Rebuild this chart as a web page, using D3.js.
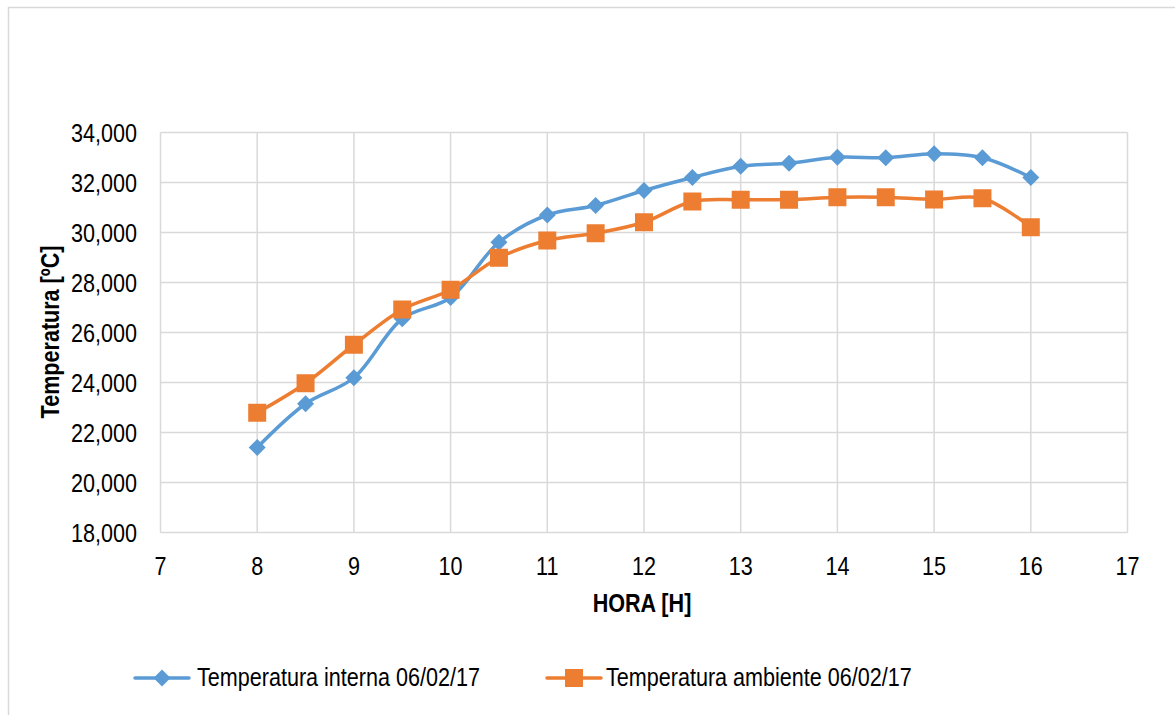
<!DOCTYPE html>
<html>
<head>
<meta charset="utf-8">
<script src="https://cdn.jsdelivr.net/npm/d3@7"></script>
<style>
  body { margin: 0; background: #fff; }
  text { font-family: "Liberation Sans Narrow", "Arial Narrow", "Liberation Sans", sans-serif; fill: #000; }
</style>
</head>
<body>
<svg id="chart" width="1175" height="715"></svg>
<script>
const horas = [8, 8.5, 9, 9.5, 10, 10.5, 11, 11.5, 12, 12.5, 13, 13.5, 14, 14.5, 15, 15.5, 16];
const interna = [21400, 23150, 24190, 26550, 27400, 29610, 30700, 31080, 31680, 32200, 32650, 32770, 33010, 32990, 33150, 32990, 32200];
const ambiente = [22790, 23970, 25510, 26920, 27710, 28990, 29680, 29970, 30410, 31240, 31310, 31310, 31410, 31410, 31320, 31370, 30210];
const xTicks = [7, 8, 9, 10, 11, 12, 13, 14, 15, 16, 17];
const yTicks = [18000, 20000, 22000, 24000, 26000, 28000, 30000, 32000, 34000];

const series = [
    { name: "Temperatura interna 06/02/17", values: interna, color: "#5B9BD5", marker: "diamond" },
    { name: "Temperatura ambiente 06/02/17", values: ambiente, color: "#ED7D31", marker: "square" }
];

const svgSpace = d3.select("#chart");
const narrow = 0.83; // la fuente del original es condensada

// borde del area del grafico
svgSpace.append("path")
    .attr("d", "M8.5,715 V7.5 H1175")
    .attr("fill", "none")
    .attr("stroke", "#d9d9d9")
    .attr("stroke-width", 1.5);

const x = d3.scaleLinear().domain([7, 17]).range([160.5, 1127.5]);
const y = d3.scaleLinear().domain([18000, 34000]).range([532.5, 132.5]);

// rejilla
svgSpace.append("g")
    .selectAll("line")
    .data(xTicks)
    .enter()
    .append("line")
    .attr("x1", (d) => x(d))
    .attr("x2", (d) => x(d))
    .attr("y1", y(34000))
    .attr("y2", y(18000))
    .attr("stroke", "#d9d9d9")
    .attr("stroke-width", 1.5);

svgSpace.append("g")
    .selectAll("line")
    .data(yTicks)
    .enter()
    .append("line")
    .attr("x1", x(7))
    .attr("x2", x(17))
    .attr("y1", (d) => y(d))
    .attr("y2", (d) => y(d))
    .attr("stroke", "#d9d9d9")
    .attr("stroke-width", 1.5);

// etiquetas de ejes
const fmt = d3.format(",.0f");

function addText(txt, tx, ty, anchor, weight, rot) {
    return svgSpace
        .append("text")
        .text(txt)
        .attr("transform", `translate(${tx},${ty})` + (rot ? ` rotate(${rot})` : "") + ` scale(${narrow},1)`)
        .style("text-anchor", anchor)
        .style("font-size", "26px")
        .style("font-weight", weight);
}

yTicks.forEach((d) => addText(fmt(d), 137, y(d) + 9, "end", "normal"));
xTicks.forEach((d) => addText(d, x(d), 575, "middle", "normal"));

addText("HORA [H]", 642, 612, "middle", "bold");
addText("Temperatura [ºC]", 59, 332, "middle", "bold", -90);

// series
const line = d3.line()
    .x((d, i) => x(horas[i]))
    .y((d) => y(d))
    .curve(d3.curveCatmullRom.alpha(0.5));

const diamond = (s) => `M0,${-s} L${s},0 L0,${s} L${-s},0 Z`;
const square = (s) => `M${-s},${-s} H${s} V${s} H${-s} Z`;

series.forEach((sr) => {
    svgSpace.append("path")
        .datum(sr.values)
        .attr("d", line)
        .attr("fill", "none")
        .attr("stroke", sr.color)
        .attr("stroke-width", 3.5)
        .attr("stroke-linejoin", "round");

    svgSpace.append("g")
        .selectAll("path")
        .data(sr.values)
        .enter()
        .append("path")
        .attr("d", sr.marker === "diamond" ? diamond(8.5) : square(9))
        .attr("transform", (d, i) => `translate(${x(horas[i])},${y(d)})`)
        .attr("fill", sr.color);
});

// leyenda
const legendPos = [{ x: 135, tx: 197 }, { x: 547, tx: 606 }];

series.forEach((sr, i) => {
    const lg = svgSpace.append("g").attr("transform", `translate(${legendPos[i].x},678)`);
    lg.append("line")
        .attr("x1", 0)
        .attr("x2", 54)
        .attr("stroke", sr.color)
        .attr("stroke-width", 3.5)
        .attr("stroke-linecap", "round");
    lg.append("path")
        .attr("d", sr.marker === "diamond" ? diamond(8.5) : square(9))
        .attr("transform", "translate(27,0)")
        .attr("fill", sr.color);
    addText(sr.name, legendPos[i].tx, 686, "start", "normal");
});
</script>
</body>
</html>
